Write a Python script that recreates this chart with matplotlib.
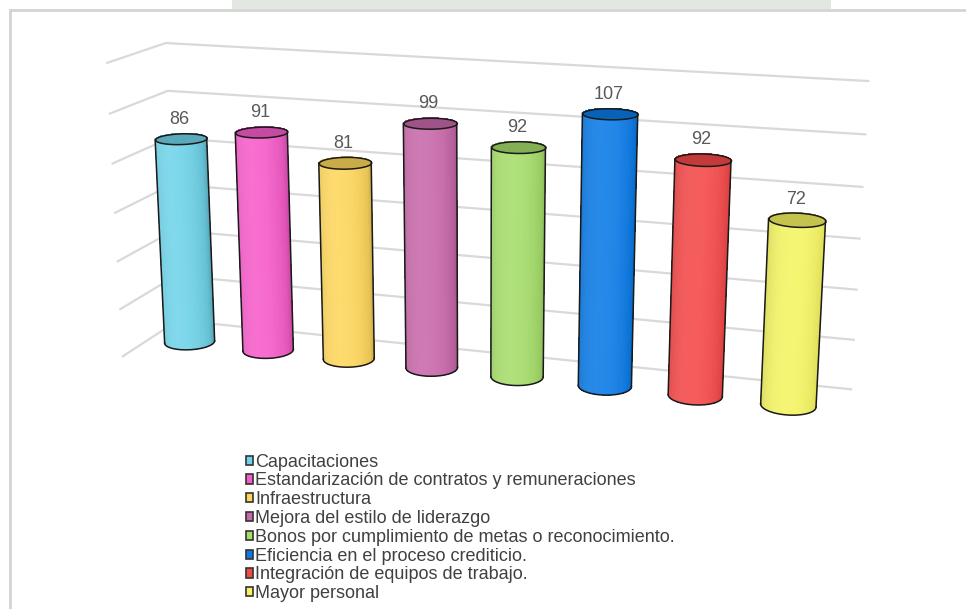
import numpy as np
import matplotlib.pyplot as plt
from matplotlib.patches import Rectangle
from matplotlib.colors import to_rgb
from mpl_toolkits.mplot3d import proj3d
from mpl_toolkits.mplot3d.art3d import Poly3DCollection

plt.rcParams['font.family'] = ['Liberation Sans', 'DejaVu Sans']

# datos
categorias = [
    "Capacitaciones",
    "Estandarización de contratos y remuneraciones",
    "Infraestructura",
    "Mejora del estilo de liderazgo",
    "Bonos por cumplimiento de metas o reconocimiento.",
    "Eficiencia en el proceso crediticio.",
    "Integración de equipos de trabajo.",
    "Mayor personal",
]
valores = [86, 91, 81, 99, 92, 107, 92, 72]
colores = ["#6fd3e8", "#f65cc9", "#fdd65c", "#c868aa",
           "#a5dc6a", "#0a7ae6", "#f44848", "#f4f462"]
niveles = [0, 20, 40, 60, 80, 100, 120]

# geometria de la escena
n = len(valores)
radio = 0.29
x_izq, x_der = -0.5, n - 0.42
prof = 1.4
y_cil = prof / 2
esc_z = 3.4 / 120

fig = plt.figure(figsize=(9.66, 6.09), dpi=100)
ax = fig.add_axes([0.018, 0.25, 0.94, 0.74], projection='3d')
ax.set_proj_type('persp', focal_length=0.75)
ax.view_init(elev=15, azim=-72.5)
ax.set_xlim(x_izq, x_der)
ax.set_ylim(0, prof)
ax.set_zlim(0, 120)
ax.set_box_aspect((x_der - x_izq, prof, 120 * esc_z), zoom=1.75)
ax.set_axis_off()
ax.computed_zorder = False

# lineas de division (pared izquierda y fondo)
for z in niveles:
    ax.plot([x_izq, x_izq, x_der], [0, prof, prof], [z, z, z],
            color="#d9d9d9", lw=1.6, zorder=1, clip_on=False)

fig.canvas.draw()
M = ax.M

th = np.linspace(0, 2 * np.pi, 121)
luz = np.deg2rad(-105)

def proyectar(xs, ys, zs):
    px, py, _ = proj3d.proj_transform(xs, ys, zs, M)
    return np.asarray(px), np.asarray(py)

for i, (v, c) in enumerate(zip(valores, colores)):
    base = np.array(to_rgb(c))
    cx = i + radio * np.cos(th)
    cy = y_cil + radio * np.sin(th)

    # cuerpo del cilindro con sombreado segun el angulo
    TH, ZZ = np.meshgrid(th, [0, v])
    X = i + radio * np.cos(TH)
    Y = y_cil + radio * np.sin(TH)
    k = np.cos(TH - luz)
    fc = np.empty(TH.shape + (4,))
    for j in range(3):
        tono = np.where(k > 0, base[j] + (1 - base[j]) * 0.12 * k,
                        base[j] * (1 + 0.25 * k))
        fc[..., j] = np.clip(tono * (0.86 + 0.14 * np.abs(np.sin(TH - luz + 1.2))), 0, 1)
    fc[..., 3] = 1
    cuerpo = ax.plot_surface(X, Y, ZZ, facecolors=fc, rstride=1, cstride=1,
                             linewidth=0, antialiased=False, shade=False, zorder=2)
    cuerpo.set_clip_on(False)

    # tapa superior
    tapa = Poly3DCollection([list(zip(cx, cy, np.full_like(cx, v)))],
                            facecolor=base * 0.8, edgecolor="#1a1a1a",
                            linewidth=1.1, zorder=4)
    ax.add_collection3d(tapa)
    tapa.set_clip_on(False)

    # contorno: lados visibles y arco frontal de la base
    bx, by = proyectar(cx, cy, np.zeros_like(cx))
    tx, ty = proyectar(cx, cy, np.full_like(cx, v))
    il, ir = np.argmin(bx[:-1]), np.argmax(bx[:-1])
    jl, jr = np.argmin(tx[:-1]), np.argmax(tx[:-1])
    kw = dict(color="#1a1a1a", lw=1.1, zorder=5, clip_on=False)
    ax.plot([cx[il], cx[jl]], [cy[il], cy[jl]], [0, v], **kw)
    ax.plot([cx[ir], cx[jr]], [cy[ir], cy[jr]], [0, v], **kw)
    a, b = sorted((il, ir))
    arco = np.arange(a, b + 1)
    if by[arco].min() > by[:-1].min():
        arco = np.r_[np.arange(b, 120), np.arange(0, a + 1)]
    ax.plot(cx[arco], cy[arco], np.zeros(len(arco)), **kw)

    # etiqueta del valor sobre el centro de la tapa
    ex, ey = proyectar([i], [y_cil], [v])
    ax.annotate(str(v), xy=(ex[0], ey[0]), xycoords='data',
                xytext=(-1, 8), textcoords='offset points',
                ha='center', va='bottom', fontsize=13, color="#595959",
                annotation_clip=False)

# leyenda
manijas = [Rectangle((0, 0), 1, 1, facecolor=c, edgecolor="#333333", lw=1.2)
           for c in colores]
fig.legend(manijas, categorias, loc='upper left', bbox_to_anchor=(0.245, 0.27),
           frameon=False, fontsize=13, handlelength=0.4, handleheight=0.4,
           handletextpad=0.12, labelspacing=0.1, borderpad=0, labelcolor="#404040")

# marco y franja superior
fig.patches.append(Rectangle((10 / 966, -0.1), 1.2, 1.1 - 10 / 609, transform=fig.transFigure,
                             fill=False, edgecolor="#d4d4d4", lw=2, zorder=0))
fig.patches.append(Rectangle((0.24, 1 - 9 / 609), 0.62, 9 / 609, transform=fig.transFigure,
                             facecolor="#e3e7e2", edgecolor="none", zorder=0))

fig.savefig("out.png", dpi=100)
